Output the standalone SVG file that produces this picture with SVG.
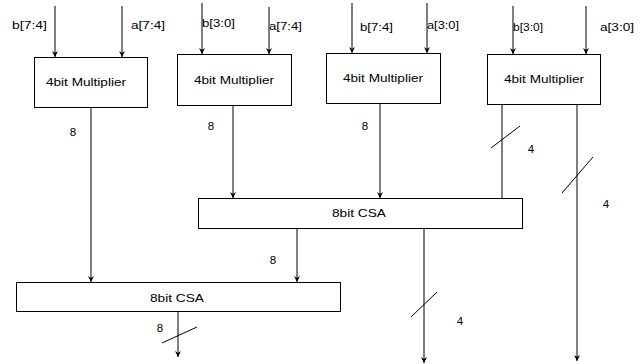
<svg xmlns="http://www.w3.org/2000/svg" width="642" height="364" viewBox="0 0 642 364">
<defs>
<marker id="arr" markerWidth="8" markerHeight="8" refX="7" refY="4" orient="auto" markerUnits="userSpaceOnUse">
<path d="M1,1 L7,4 L1,7 L3,4 Z" fill="#000"/>
</marker>
<style>
.box{fill:#fff;stroke:#000;stroke-width:1}
.ln{stroke:#000;stroke-width:1;fill:none}
.t{font-family:"Liberation Sans",Arial,sans-serif;font-size:11.5px;fill:#000}
.c{text-anchor:middle}
</style>
</defs>
<rect width="642" height="364" fill="#fff"/>
<g id="connectors">
<!-- inputs -->
<line class="ln" x1="55" y1="6" x2="55" y2="57" marker-end="url(#arr)"/>
<line class="ln" x1="122" y1="6" x2="122" y2="57" marker-end="url(#arr)"/>
<line class="ln" x1="202" y1="3" x2="202" y2="54" marker-end="url(#arr)"/>
<line class="ln" x1="269" y1="7" x2="269" y2="54" marker-end="url(#arr)"/>
<line class="ln" x1="352" y1="3" x2="352" y2="53" marker-end="url(#arr)"/>
<line class="ln" x1="427" y1="3" x2="427" y2="53" marker-end="url(#arr)"/>
<line class="ln" x1="513" y1="6" x2="513" y2="54" marker-end="url(#arr)"/>
<line class="ln" x1="586" y1="6" x2="586" y2="54" marker-end="url(#arr)"/>
<!-- mult outputs -->
<line class="ln" x1="91" y1="108" x2="91" y2="282" marker-end="url(#arr)"/>
<line class="ln" x1="233" y1="106" x2="233" y2="198" marker-end="url(#arr)"/>
<line class="ln" x1="380" y1="104" x2="380" y2="198" marker-end="url(#arr)"/>
<line class="ln" x1="502" y1="105" x2="502" y2="198"/>
<line class="ln" x1="577" y1="105" x2="577" y2="361" marker-end="url(#arr)"/>
<!-- CSA outputs -->
<line class="ln" x1="297" y1="228" x2="297" y2="282" marker-end="url(#arr)"/>
<line class="ln" x1="424" y1="228" x2="424" y2="363" marker-end="url(#arr)"/>
<line class="ln" x1="178" y1="311" x2="178" y2="357" marker-end="url(#arr)"/>
<!-- bus slashes -->
<line class="ln" x1="491" y1="148" x2="520" y2="126"/>
<line class="ln" x1="562" y1="193" x2="593" y2="157"/>
<line class="ln" x1="411" y1="317" x2="437" y2="292"/>
<line class="ln" x1="162" y1="343" x2="197" y2="327"/>
</g>
<g id="labels">
<text class="t" x="12" y="29" textLength="35" lengthAdjust="spacingAndGlyphs">b[7:4]</text>
<text class="t" x="131" y="29" textLength="34" lengthAdjust="spacingAndGlyphs">a[7:4]</text>
<text class="t" x="202" y="27" textLength="33" lengthAdjust="spacingAndGlyphs">b[3:0]</text>
<text class="t" x="269" y="30" textLength="33" lengthAdjust="spacingAndGlyphs">a[7:4]</text>
<text class="t" x="360" y="31" textLength="33" lengthAdjust="spacingAndGlyphs">b[7:4]</text>
<text class="t" x="427" y="29" textLength="32" lengthAdjust="spacingAndGlyphs">a[3:0]</text>
<text class="t" x="513" y="31" textLength="30" lengthAdjust="spacingAndGlyphs">b[3:0]</text>
<text class="t" x="600" y="31" textLength="34" lengthAdjust="spacingAndGlyphs">a[3:0]</text>
<text class="t c" x="73" y="136">8</text>
<text class="t c" x="211" y="130">8</text>
<text class="t c" x="365" y="130">8</text>
<text class="t c" x="531" y="153">4</text>
<text class="t c" x="606" y="208">4</text>
<text class="t c" x="273" y="264">8</text>
<text class="t c" x="460" y="325">4</text>
<text class="t c" x="160" y="332">8</text>
</g>
<g id="mult1">
<rect class="box" x="34.5" y="57.5" width="113" height="50"/>
<text class="t c" x="86" y="86" textLength="80" lengthAdjust="spacingAndGlyphs">4bit Multiplier</text>
</g>
<g id="mult2">
<rect class="box" x="177.5" y="54.5" width="114" height="51"/>
<text class="t c" x="234" y="84" textLength="80" lengthAdjust="spacingAndGlyphs">4bit Multiplier</text>
</g>
<g id="mult3">
<rect class="box" x="326.5" y="53.5" width="114" height="50"/>
<text class="t c" x="383" y="82" textLength="80" lengthAdjust="spacingAndGlyphs">4bit Multiplier</text>
</g>
<g id="mult4">
<rect class="box" x="487.5" y="54.5" width="113" height="50"/>
<text class="t c" x="544" y="83" textLength="80" lengthAdjust="spacingAndGlyphs">4bit Multiplier</text>
</g>
<g id="csa1">
<rect class="box" x="198.5" y="198.5" width="324" height="30"/>
<text class="t c" x="359" y="217" textLength="54" lengthAdjust="spacingAndGlyphs">8bit CSA</text>
</g>
<g id="csa2">
<rect class="box" x="16.5" y="282.5" width="324" height="29"/>
<text class="t c" x="177" y="302" textLength="54" lengthAdjust="spacingAndGlyphs">8bit CSA</text>
</g>
</svg>
